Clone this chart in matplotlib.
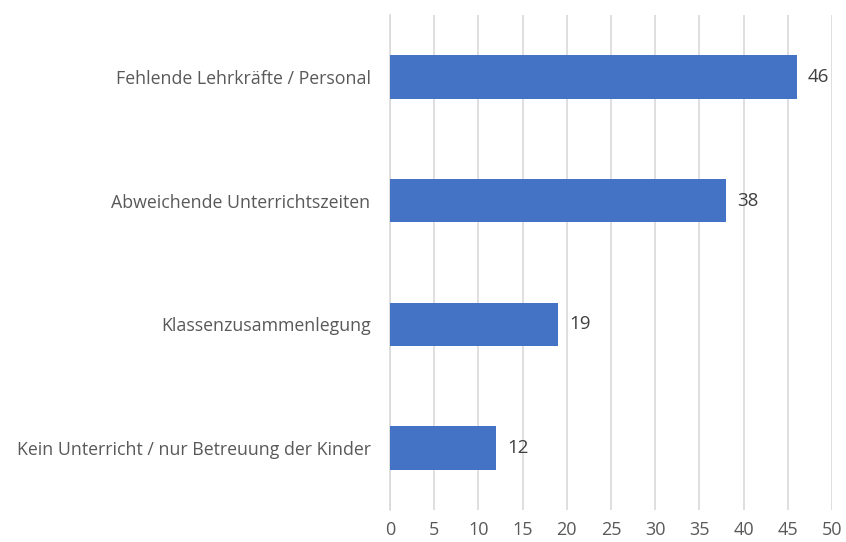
import matplotlib.pyplot as plt

categories = [
    "Fehlende Lehrkräfte / Personal",
    "Abweichende Unterrichtszeiten",
    "Klassenzusammenlegung",
    "Kein Unterricht / nur Betreuung der Kinder",
]
values = [46, 38, 19, 12]
xticks = [0, 5, 10, 15, 20, 25, 30, 35, 40, 45, 50]

plt.rcParams["font.family"] = ["Open Sans", "DejaVu Sans"]
text_color = "#595959"

fig = plt.figure(figsize=(8.46, 5.42), dpi=100)
ax = fig.add_axes([390 / 846, 1 - 510 / 542, 442 / 846, 495 / 542])

pos = list(range(len(categories)))
ax.barh(pos, values, height=0.35, color="#4472C4", zorder=3)
for p, v in zip(pos, values):
    ax.annotate(str(v), (v, p), xytext=(8, 0), textcoords="offset points",
                va="center", ha="left", fontsize=13.5, color="#404040")

ax.set_ylim(len(categories) - 0.5, -0.5)
ax.set_xlim(0, 50)
ax.set_yticks(pos)
ax.set_yticklabels(categories, fontsize=12.8, color=text_color)
ax.set_xticks(xticks)
ax.set_xticklabels([str(t) for t in xticks], fontsize=13, color=text_color)
ax.tick_params(length=0)
ax.tick_params(axis="y", pad=14)
ax.tick_params(axis="x", pad=8)
ax.grid(axis="x", color="#D9D9D9", linewidth=1.2, zorder=0)
for side in ["top", "right", "bottom"]:
    ax.spines[side].set_visible(False)
ax.spines["left"].set_color("#D9D9D9")
ax.spines["left"].set_linewidth(1.2)

fig.savefig("out.png", dpi=100)
